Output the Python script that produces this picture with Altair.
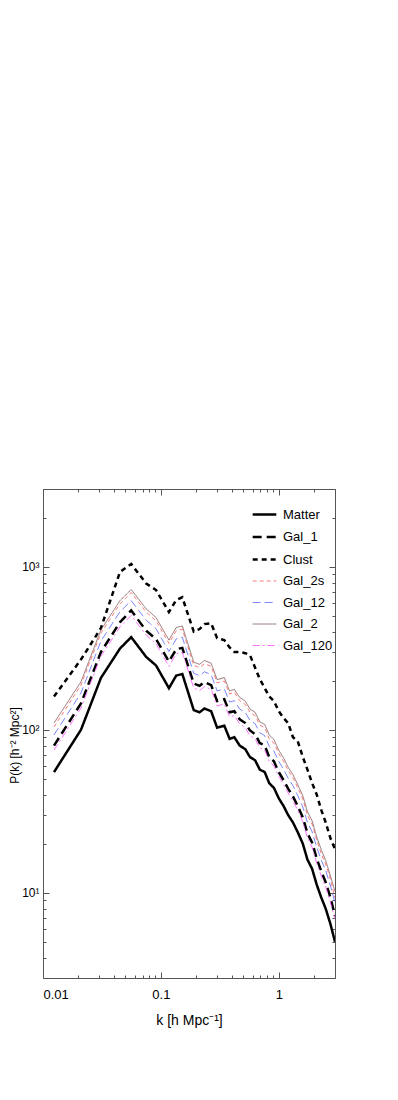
import altair as alt
import pandas as pd

k_vals = [0.0124, 0.021, 0.031, 0.045, 0.056, 0.075, 0.091, 0.117, 0.135, 0.152,
          0.19, 0.213, 0.234, 0.267, 0.30, 0.345, 0.383, 0.42, 0.466, 0.52,
          0.57, 0.63, 0.69, 0.76, 0.83, 0.91, 1.0, 1.1, 1.2, 1.32,
          1.45, 1.6, 1.75, 1.92, 2.1, 2.3, 2.5, 2.75, 3.0]

matter = [55, 100, 208, 315, 370, 280, 248, 180, 215, 220,
          132, 128, 135, 130, 103, 106, 88, 90, 80, 76,
          68, 65, 57, 55, 47, 44, 38, 34, 30, 27,
          23.5, 20, 16, 14, 11.2, 9.3, 8, 6.4, 5.0]
gal_1 = [80, 145, 300, 457, 540, 405, 360, 262, 312, 318,
         192, 186, 196, 188, 150, 154, 128, 130, 116, 110,
         99, 94, 83, 80, 68, 64, 55, 49, 43.5, 39,
         34, 29, 23.2, 20.3, 16.2, 13.5, 11.6, 9.3, 7.2]
clust = [160, 270, 420, 930, 1040, 790, 720, 528, 624, 650,
         400, 415, 445, 450, 365, 355, 320, 300, 300, 295,
         287, 240, 205, 180, 160, 150, 130, 118, 110, 90,
         85, 68, 57, 47, 40, 32, 27, 21.5, 18.5]
gal_2s = [104, 188, 392, 592, 695, 527, 466, 339, 405, 414,
          248, 241, 254, 245, 194, 199, 166, 170, 151, 143,
          128, 122, 107, 103, 88, 83, 71.5, 64, 56.5, 50.8,
          44, 37.6, 30, 26.3, 21, 17.3, 15, 12, 9.3]
gal_12 = [93, 168, 350, 530, 620, 470, 417, 302, 361, 370,
          222, 215, 227, 218, 173, 178, 148, 151, 134, 128,
          114, 109, 96, 92, 79, 74, 64, 57, 50.5, 45.4,
          39.5, 33.6, 27, 23.7, 19, 15.8, 13.7, 11, 8.7]
gal_2 = [110, 197, 410, 620, 725, 552, 488, 355, 424, 433,
         260, 252, 266, 256, 203, 209, 173, 177, 158, 150,
         134, 128, 112, 108, 93, 87, 75, 67, 59, 53,
         46, 39.4, 31.5, 27.6, 22, 18.3, 15.8, 12.6, 10.2]
gal_120 = [75, 136, 283, 428, 503, 381, 337, 245, 292, 299,
           180, 174, 184, 177, 140, 144, 120, 122, 109, 103,
           92, 88, 77.5, 75, 64, 60, 52, 46, 41, 36.7,
           32, 27.2, 21.8, 19, 15.2, 12.6, 10.9, 8.7, 6.9]

names = ["Matter", "Gal_1", "Clust", "Gal_2s", "Gal_12", "Gal_2", "Gal_120"]
series = [matter, gal_1, clust, gal_2s, gal_12, gal_2, gal_120]
colors = ["#000000", "#000000", "#000000", "#ff5a5a", "#5a64ff", "#7a5252", "#ff4cff"]
dashes = [[1, 0], [9, 5], [5, 4], [4, 3], [8, 4], [1, 0], [7, 3, 2, 3]]
widths = [2.5, 2.5, 2.5, 0.8, 0.8, 0.8, 0.8]

x_major = [0.01, 0.1, 1]
x_minor = [0.02, 0.03, 0.04, 0.05, 0.06, 0.07, 0.08, 0.09,
           0.2, 0.3, 0.4, 0.5, 0.6, 0.7, 0.8, 0.9, 2, 3]
y_major = [10, 100, 1000]
y_minor = [4, 5, 6, 7, 8, 9, 20, 30, 40, 50, 60, 70, 80, 90,
           200, 300, 400, 500, 600, 700, 800, 900, 2000, 3000]

rows = []
for n, s in zip(names, series):
    for kk, p in zip(k_vals, s):
        rows.append({"series": n, "k": kk, "P": p})
df = pd.DataFrame(rows)

FONT = "Liberation Sans Narrow, Liberation Sans, Arial, sans-serif"
TFONT = "Liberation Sans, Arial, sans-serif"
TICK = "#555555"

xs = alt.Scale(type="log", domain=[0.01, 3], nice=False)
ys = alt.Scale(type="log", domain=[3, 3000], nice=False)


def tick_axis(orient, vals, size):
    return alt.Axis(orient=orient, values=vals, offset=-size, tickSize=size,
                    labels=False, domain=False, grid=False, title=None,
                    tickColor=TICK, tickWidth=1)


def legend():
    return alt.Legend(orient="none", legendX=208, legendY=12, title=None,
                      symbolType="stroke", symbolSize=560, rowPadding=1.5,
                      labelFont=FONT, labelFontSize=13, labelColor="#000",
                      labelOffset=5, padding=0)


lines = alt.Chart(df).mark_line(clip=True).encode(
    x=alt.X("k:Q", scale=xs, axis=alt.Axis(
        orient="bottom", values=x_major, offset=-6, tickSize=6, domain=False,
        grid=False, tickColor=TICK, labelPadding=10,
        labelExpr="datum.value < 0.05 ? '0.01' : (datum.value < 0.5 ? '0.1' : '1')",
        labelFont=FONT, labelFontSize=13, labelColor="#000",
        title="k [h Mpc⁻¹]", titleFont=FONT, titleFontSize=14,
        titleFontWeight="normal", titlePadding=12, titleColor="#000")),
    y=alt.Y("P:Q", scale=ys, axis=alt.Axis(
        orient="left", values=y_major, offset=-6, tickSize=6, domain=False,
        grid=False, tickColor=TICK, labelPadding=4,
        labelExpr="datum.value < 50 ? '10¹' : (datum.value < 500 ? '10²' : '10³')",
        labelFont=FONT, labelFontSize=12, labelColor="#000",
        title="P(k) [h⁻² Mpc²]", titleFont=TFONT, titleFontSize=12,
        titleFontWeight="normal", titleX=-28, titleY=256, titleColor="#000")),
    color=alt.Color("series:N", scale=alt.Scale(domain=names, range=colors),
                    legend=legend()),
    strokeDash=alt.StrokeDash("series:N", scale=alt.Scale(domain=names, range=dashes),
                              legend=legend()),
    strokeWidth=alt.StrokeWidth("series:N",
                                scale=alt.Scale(type="ordinal", domain=names, range=widths),
                                legend=legend()),
)

pts = alt.Chart(df).mark_point(opacity=0)

layer2 = pts.encode(x=alt.X("k:Q", scale=xs, axis=tick_axis("bottom", x_minor, 3)),
                    y=alt.Y("P:Q", scale=ys, axis=tick_axis("left", y_minor, 3)))
layer3 = pts.encode(x=alt.X("k:Q", scale=xs, axis=tick_axis("top", x_major, 6)),
                    y=alt.Y("P:Q", scale=ys, axis=tick_axis("right", y_major, 6)))
layer4 = pts.encode(x=alt.X("k:Q", scale=xs, axis=tick_axis("top", x_minor, 3)),
                    y=alt.Y("P:Q", scale=ys, axis=tick_axis("right", y_minor, 3)))

chart = alt.layer(lines, layer2, layer3, layer4).resolve_axis(
    x="independent", y="independent"
).properties(
    width=292, height=489,
    autosize=alt.AutoSizeParams(type="none"),
    padding={"left": 35, "top": 481, "right": 20, "bottom": 70},
).configure_view(stroke="#555555", strokeWidth=1)

chart.save("out.html", embed_options={"renderer": "svg", "actions": False})
